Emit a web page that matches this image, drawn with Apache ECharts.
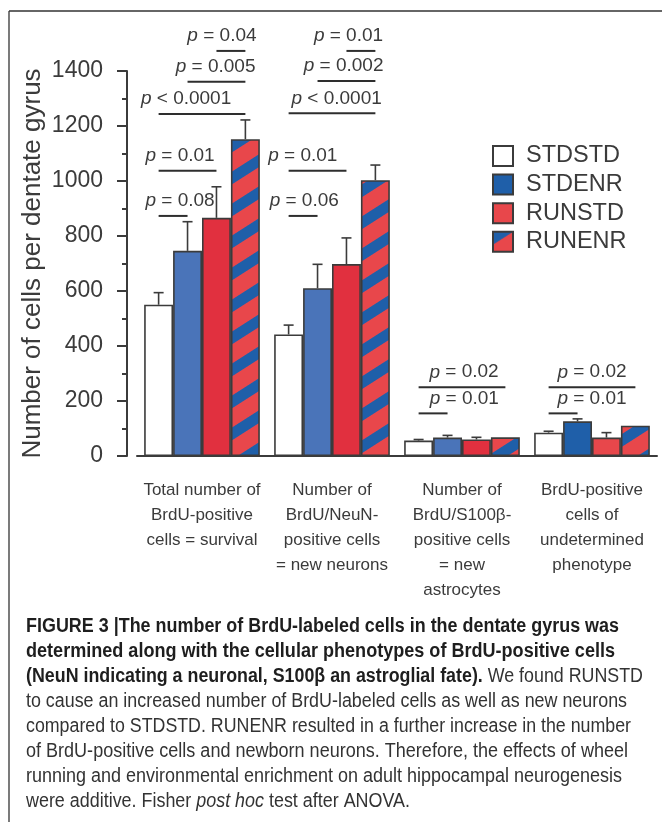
<html>
<head>
<meta charset="utf-8">
<script src="https://cdn.jsdelivr.net/npm/echarts@6/dist/echarts.min.js"></script>
<style>
  body { margin: 0; background: #fff; }
  #main { width: 662px; height: 822px; }
</style>
</head>
<body>
<div id="main"></div>
<script>
// ---- data ----
var categories = [
    'Total number of\nBrdU-positive\ncells = survival',
    'Number of\nBrdU/NeuN-\npositive cells\n= new neurons',
    'Number of\nBrdU/S100β-\npositive cells\n= new\nastrocytes',
    'BrdU-positive\ncells of\nundetermined\nphenotype'
];
var groupNames = ['STDSTD', 'STDENR', 'RUNSTD', 'RUNENR'];
var stdstd = [550, 442, 56, 85];
var stdenr = [746, 610, 67, 126];
var runstd = [866, 698, 60, 67];
var runenr = [1152, 1003, 68, 110];
var stdstdErr = [44, 34, 4, 5];
var stdenrErr = [106, 87, 8, 9];
var runstdErr = [113, 95, 8, 18];
var runenrErr = [70, 55, 0, 0];
var yTicks = [0, 200, 400, 600, 800, 1000, 1200, 1400];

// pairwise comparisons: label, category, bar from, bar to, level (cells)
var pLabels = ['p = 0.04', 'p = 0.005', 'p < 0.0001', 'p = 0.01', 'p = 0.08',
               'p = 0.01', 'p = 0.002', 'p < 0.0001', 'p = 0.01', 'p = 0.06',
               'p = 0.02', 'p = 0.01', 'p = 0.02', 'p = 0.01'];
var pCategory = [0, 0, 0, 0, 0, 1, 1, 1, 1, 1, 2, 2, 3, 3];
var pFrom = [2, 1, 0, 0, 0, 2, 1, 0, 0, 0, 0, 0, 0, 0];
var pTo = [3, 3, 3, 2, 1, 3, 3, 3, 2, 1, 3, 1, 3, 1];
var pLevel = [1473, 1361, 1244, 1037, 873, 1473, 1364, 1246, 1037, 873, 250, 155, 250, 155];

// caption, as [style, text] runs per line
var caption = [
    [['b', 'FIGURE 3 |The number of BrdU-labeled cells in the dentate gyrus was']],
    [['b', 'determined along with the cellular phenotypes of BrdU-positive cells']],
    [['b', '(NeuN indicating a neuronal, S100β an astroglial fate).'], ['r', ' We found RUNSTD']],
    [['r', 'to cause an increased number of BrdU-labeled cells as well as new neurons']],
    [['r', 'compared to STDSTD. RUNENR resulted in a further increase in the number']],
    [['r', 'of BrdU-positive cells and newborn neurons. Therefore, the effects of wheel']],
    [['r', 'running and environmental enrichment on adult hippocampal neurogenesis']],
    [['r', 'were additive. Fisher '], ['i', 'post hoc'], ['r', ' test after ANOVA.']]
];

// ---- layout / style ----
var pTextPos = [2.19, 1.97, 0.95, 0.74, 0.74, 2.07, 1.9, 1.66, 0.49, 0.54, 1.57, 1.58, 1.5, 1.5];
var capWidths = [593, 589, 617, 601, 605, 602, 596, 384];
var catGap = 0.11;
var ink = '#3b3b3b';
var font = '"Liberation Sans", Arial, sans-serif';
var red = '#e8474b', blue = '#1f5fa9';
var darkRed = '#e1303f', midBlue = '#4a74b9';

function makeHatch() {
    var W = 50, H = 32, frac = 0.4, ss = 4;
    var c = document.createElement('canvas');
    c.width = W; c.height = H;
    var ctx = c.getContext('2d');
    var img = ctx.createImageData(W, H);
    var r1 = [0xe8, 0x47, 0x4b], b1 = [0x1f, 0x5f, 0xa9];
    for (var y = 0; y < H; y++) {
        for (var x = 0; x < W; x++) {
            var nb = 0;
            for (var sy = 0; sy < ss; sy++) {
                for (var sx = 0; sx < ss; sx++) {
                    var t = (x + (sx + 0.5) / ss) / W + (y + (sy + 0.5) / ss) / H;
                    t = t - Math.floor(t);
                    if (t < frac) nb++;
                }
            }
            var a = nb / (ss * ss);
            var k = (y * W + x) * 4;
            for (var j = 0; j < 3; j++) img.data[k + j] = Math.round(b1[j] * a + r1[j] * (1 - a));
            img.data[k + 3] = 255;
        }
    }
    ctx.putImageData(img, 0, 0);
    return c;
}
var hatch = { image: makeHatch(), repeat: 'repeat' };

function barX(api, cat, u) {
    var band = api.size([1, 0])[0];
    var bw = band * (1 - catGap) / 4;
    return api.coord([cat, 0])[0] + (u - 1.5) * bw;
}

var errData = [];
[stdstdErr, stdenrErr, runstdErr, runenrErr].forEach(function (errs, b) {
    var vals = [stdstd, stdenr, runstd, runenr][b];
    errs.forEach(function (e, c) { errData.push([c, b, vals[c], e]); });
});

var pData = pLabels.map(function (s, i) {
    return [pCategory[i], pFrom[i], pTo[i], pLevel[i], pTextPos[i]];
});

var myChart = echarts.init(document.getElementById('main'));

var bars = [stdstd, stdenr, runstd, runenr].map(function (vals, b) {
    var color = ['#ffffff', blue, red, hatch][b];
    return {
        name: groupNames[b],
        type: 'bar',
        barGap: '0%',
        barCategoryGap: (catGap * 100) + '%',
        itemStyle: { color: color, borderColor: ink, borderWidth: 1.6 },
        data: vals.map(function (v, c) {
            if (b == 1 && c < 3) return { value: v, itemStyle: { color: midBlue } };
            if (b == 2 && c < 3) return { value: v, itemStyle: { color: darkRed } };
            return v;
        })
    };
});

var option = {
    animation: false,
    backgroundColor: '#fff',
    grid: { left: 137, right: 5, top: 71, bottom: 366 },
    legend: {
        orient: 'vertical',
        left: 487, top: 139,
        itemWidth: 20, itemHeight: 20, itemGap: 4.6,
        icon: 'rect',
        data: groupNames,
        itemStyle: { borderColor: ink, borderWidth: 2 },
        textStyle: { fontFamily: font, fontSize: 23.5, color: ink, padding: [0, 0, 0, 8] }
    },
    xAxis: {
        type: 'category',
        data: categories,
        axisLine: { lineStyle: { color: ink, width: 2 } },
        axisTick: { show: false },
        axisLabel: { interval: 0, fontFamily: font, fontSize: 17, lineHeight: 25, color: ink, margin: 22 }
    },
    yAxis: {
        type: 'value',
        min: 0, max: 1400, interval: 200,
        offset: 10,
        name: 'Number of cells per dentate gyrus',
        nameLocation: 'middle',
        nameGap: 81,
        nameMoveOverlap: false,
        nameTextStyle: { fontFamily: font, fontSize: 26, color: ink },
        splitLine: { show: false },
        axisLine: { show: true, lineStyle: { color: ink, width: 2 } },
        axisTick: { show: true, length: 10, lineStyle: { color: ink, width: 2 } },
        minorTick: { show: true, splitNumber: 2, length: 5, lineStyle: { color: ink, width: 2 } },
        axisLabel: {
            fontFamily: font, fontSize: 23, color: ink, margin: 24,
            formatter: function (v) { return yTicks.indexOf(v) >= 0 ? String(v) : ''; }
        }
    },
    series: bars.concat([
        {
            type: 'custom',
            name: 'err',
            z: 3,
            data: errData,
            renderItem: function (params, api) {
                var e = api.value(3);
                if (!(e > 0)) return { type: 'group', children: [] };
                var x = barX(api, api.value(0), api.value(1));
                var y0 = api.coord([0, api.value(2)])[1];
                var y1 = api.coord([0, api.value(2) + e])[1];
                var st = { stroke: ink, lineWidth: 1.6 };
                return {
                    type: 'group',
                    children: [
                        { type: 'line', shape: { x1: x, y1: y0, x2: x, y2: y1 }, style: st },
                        { type: 'line', shape: { x1: x - 5, y1: y1, x2: x + 5, y2: y1 }, style: st }
                    ]
                };
            }
        },
        {
            type: 'custom',
            name: 'pvals',
            z: 4,
            clip: false,
            data: pData,
            renderItem: function (params, api) {
                var cat = api.value(0);
                var x1 = barX(api, cat, api.value(1));
                var x2 = barX(api, cat, api.value(2));
                var y = api.coord([0, api.value(3)])[1];
                var tx = barX(api, cat, api.value(4));
                var s = pLabels[params.dataIndex];
                return {
                    type: 'group',
                    children: [
                        { type: 'line', shape: { x1: x1, y1: y, x2: x2, y2: y }, style: { stroke: '#2e2e2e', lineWidth: 2 } },
                        {
                            type: 'text',
                            x: tx, y: y - 15,
                            style: {
                                text: '{i|p}{r|' + s.slice(1) + '}',
                                align: 'center', verticalAlign: 'middle',
                                rich: {
                                    i: { fontFamily: font, fontSize: 19, fontStyle: 'italic', fill: ink },
                                    r: { fontFamily: font, fontSize: 19, fill: ink }
                                }
                            }
                        }
                    ]
                };
            }
        }
    ]),
    graphic: [
        { type: 'line', shape: { x1: 9, y1: 11, x2: 662, y2: 11 }, style: { stroke: '#333', lineWidth: 1.3 } },
        { type: 'line', shape: { x1: 9, y1: 11, x2: 9, y2: 822 }, style: { stroke: '#333', lineWidth: 1.3 } }
    ]
};

// caption: Liberation Sans squeezed horizontally to the condensed width of the original
var capSize = 20;
var capRich = {
    b: { fontFamily: font, fontSize: capSize, fontWeight: 'bold', fill: '#1e1e1e' },
    r: { fontFamily: font, fontSize: capSize, fill: '#333' },
    i: { fontFamily: font, fontSize: capSize, fontStyle: 'italic', fill: '#333' }
};
var mctx = document.createElement('canvas').getContext('2d');
function runFont(s) {
    return (s == 'b' ? 'bold ' : s == 'i' ? 'italic ' : '') + capSize + 'px "Liberation Sans", Arial, sans-serif';
}
caption.forEach(function (runs, i) {
    var w = 0, txt = '';
    runs.forEach(function (r) {
        mctx.font = runFont(r[0]);
        w += mctx.measureText(r[1]).width;
        txt += '{' + r[0] + '|' + r[1] + '}';
    });
    option.graphic.push({
        type: 'text', x: 26, y: 626.7 + i * 25,
        scaleX: capWidths[i] / w,
        style: { text: txt, rich: capRich, verticalAlign: 'middle' }
    });
});

myChart.setOption(option);
</script>
</body>
</html>
